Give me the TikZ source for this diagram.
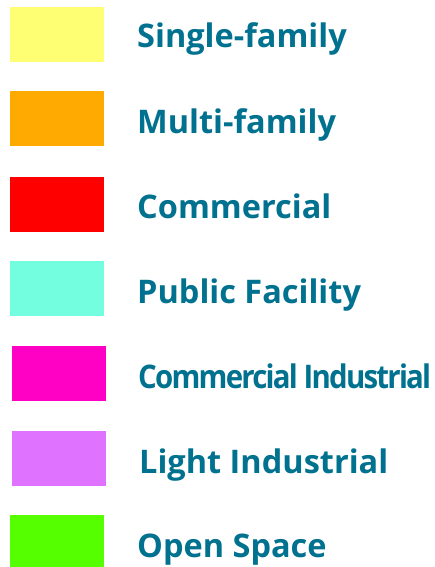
\documentclass[tikz,border=0pt]{standalone}
\usepackage{fontspec}
\setmainfont{Open Sans}
\usepackage{xcolor}
\usepackage{graphicx}

\definecolor{singlefam}{HTML}{FFFF73}
\definecolor{multifam}{HTML}{FFAA00}
\definecolor{commerc}{HTML}{FF0000}
\definecolor{publicfac}{HTML}{73FFDF}
\definecolor{commind}{HTML}{FF00C5}
\definecolor{lightind}{HTML}{DF73FF}
\definecolor{openspc}{HTML}{55FF00}
\definecolor{legendtxt}{HTML}{00718F}

\begin{document}
\begin{tikzpicture}[x=1pt, y=-1pt,
  swatch/.style={anchor=north west, minimum width=94pt, minimum height=55pt, inner sep=0pt, fill=#1},
  legendtext/.style={anchor=base west, inner sep=0pt, text=legendtxt, font=\bfseries\fontsize{32.5}{32.5}\selectfont}]
\useasboundingbox (0,0) rectangle (435,567);
% swatches
\node[swatch=singlefam] (sw1) at (10,7) {};
\node[swatch=multifam]  (sw2) at (10,91) {};
\node[swatch=commerc]   (sw3) at (10,177) {};
\node[swatch=publicfac] (sw4) at (10,261) {};
\node[swatch=commind]   (sw5) at (12,346) {};
\node[swatch=lightind]  (sw6) at (12,431) {};
\node[swatch=openspc]   (sw7) at (10,515) {};
% labels
\node[legendtext] (lb1) at (137,48) {Single-family};
\node[legendtext] (lb2) at (137,133) {Multi-family};
\node[legendtext] (lb3) at (137,218) {Commercial};
\node[legendtext] (lb4) at (137,303) {Public Facility};
\node[legendtext] (lb5) at (138,388) {\resizebox{293pt}{\height}{\addfontfeatures{LetterSpace=-6}Commercial Industrial}};
\node[legendtext] (lb6) at (139,473) {Light Industrial};
\node[legendtext] (lb7) at (137,557) {Open Space};
\end{tikzpicture}
\end{document}
